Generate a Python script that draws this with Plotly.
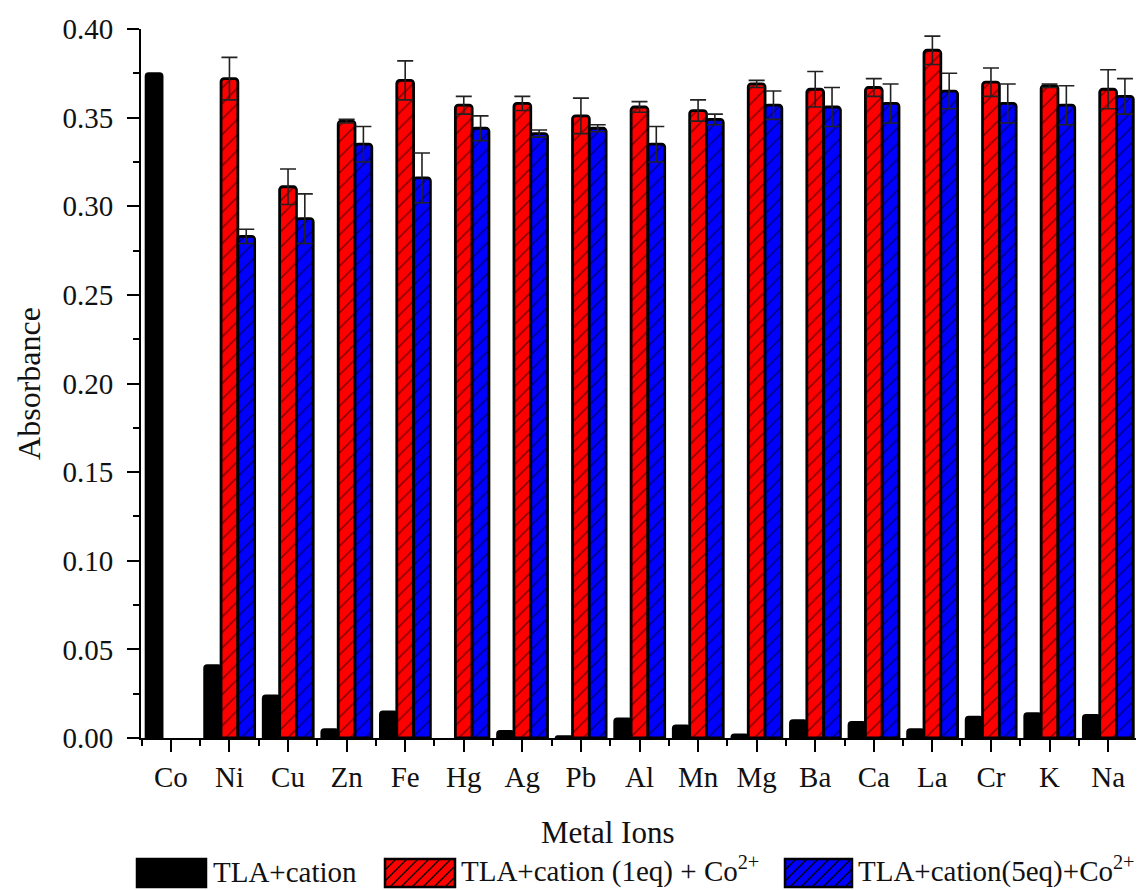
import plotly.graph_objects as go

ions = ["Co", "Ni", "Cu", "Zn", "Fe", "Hg", "Ag", "Pb", "Al", "Mn", "Mg", "Ba", "Ca", "La", "Cr", "K", "Na"]

tla_cation = [0.375, 0.041, 0.024, 0.005, 0.015, None, 0.004, 0.001, 0.011, 0.007, 0.002, 0.010, 0.009, 0.005, 0.012, 0.014, 0.013]

co_1eq = [None, 0.372, 0.311, 0.348, 0.371, 0.357, 0.358, 0.351, 0.356, 0.354, 0.369, 0.366, 0.367, 0.388, 0.370, 0.368, 0.366]
co_1eq_err = [0, 0.012, 0.010, 0.001, 0.011, 0.005, 0.004, 0.010, 0.003, 0.006, 0.002, 0.010, 0.005, 0.008, 0.008, 0.001, 0.011]

co_5eq = [None, 0.283, 0.293, 0.335, 0.316, 0.344, 0.341, 0.344, 0.335, 0.349, 0.357, 0.356, 0.358, 0.365, 0.358, 0.357, 0.362]
co_5eq_err = [0, 0.004, 0.014, 0.010, 0.014, 0.007, 0.002, 0.002, 0.010, 0.003, 0.008, 0.011, 0.011, 0.010, 0.011, 0.011, 0.010]

series_names = ["TLA+cation", "TLA+cation (1eq) + Co<sup>2+</sup>", "TLA+cation(5eq)+Co<sup>2+</sup>"]
series_colors = ["#000000", "#FF0000", "#0000FF"]

y_ticks = [0.00, 0.05, 0.10, 0.15, 0.20, 0.25, 0.30, 0.35, 0.40]

FONT = "Liberation Serif, Times New Roman, serif"
FS = 29
TXT = "#111111"
xpos = list(range(len(ions)))

# figure geometry (page has an 8px body margin: figure is 1136x882 placed at (8, 8))
W, H = 1136, 882
ML, MR, MT, MB = 133, 6, 21, 152
PW, PH = W - ML - MR, H - MT - MB


def px2paper(x, y):
    return (x - ML) / PW, (H - MB - y) / PH


fig = go.Figure()
fig.add_trace(go.Bar(
    x=xpos, y=tla_cation, name=series_names[0],
    marker=dict(color=series_colors[0], line=dict(color="#000000", width=2), cornerradius=3),
))
fig.add_trace(go.Bar(
    x=xpos, y=co_1eq, name=series_names[1],
    marker=dict(color=series_colors[1], line=dict(color="#000000", width=2.8), cornerradius=3,
                pattern=dict(shape="/", fgcolor="#000000", bgcolor=series_colors[1], size=11, solidity=0.14, fillmode="overlay")),
    error_y=dict(type="data", array=co_1eq_err, symmetric=True, color="#222222", thickness=1.6, width=8),
))
fig.add_trace(go.Bar(
    x=xpos, y=co_5eq, name=series_names[2],
    marker=dict(color=series_colors[2], line=dict(color="#000000", width=2.8), cornerradius=3,
                pattern=dict(shape="/", fgcolor="#000000", bgcolor=series_colors[2], size=11, solidity=0.14, fillmode="overlay")),
    error_y=dict(type="data", array=co_5eq_err, symmetric=True, color="#222222", thickness=1.6, width=8),
))

# ---- legend drawn as key boxes + real text (figure pixel coords) ----
legend_boxes = [(129, 198), (377, 447), (777, 844)]   # x0, x1 of each key box
legend_text_x = [204, 452, 849]
legend_text_size = [29, 29, 29]
box_y0, box_y1 = 851, 879
text_bottom = 881

shapes = []
annotations = []
for i, ((bx0, bx1), tx, ts) in enumerate(zip(legend_boxes, legend_text_x, legend_text_size)):
    px0, py0 = px2paper(bx0, box_y1)
    px1, py1 = px2paper(bx1, box_y0)
    shapes.append(dict(type="rect", xref="paper", yref="paper", x0=px0, x1=px1, y0=py0, y1=py1,
                       fillcolor=series_colors[i], line=dict(color="#000000", width=2.5), layer="above"))
    if i > 0:
        # diagonal hatch "/" inside the key box
        h = box_y1 - box_y0
        parts = []
        c = bx0 - h
        while c < bx1:
            xa, ya = c, box_y1
            xb, yb = c + h, box_y0
            if xa < bx0:
                ya = box_y1 - (bx0 - xa)
                xa = bx0
            if xb > bx1:
                yb = box_y0 + (xb - bx1)
                xb = bx1
            if xb > xa:
                pa = px2paper(xa, ya)
                pb = px2paper(xb, yb)
                parts.append(f"M{pa[0]:.5f},{pa[1]:.5f} L{pb[0]:.5f},{pb[1]:.5f}")
            c += 11
        shapes.append(dict(type="path", xref="paper", yref="paper", path=" ".join(parts),
                           line=dict(color="#000000", width=1.3), layer="above"))
    tpx, tpy = px2paper(tx, text_bottom)
    annotations.append(dict(text=series_names[i], xref="paper", yref="paper", x=tpx, y=tpy,
                            xanchor="left", yanchor="bottom", showarrow=False, borderpad=0,
                            font=dict(family=FONT, size=ts, color=TXT)))

annotations.append(dict(text="Metal Ions", xref="paper", yref="paper", x=0.468, y=-0.1326,
                        xanchor="center", yanchor="middle", showarrow=False,
                        font=dict(family=FONT, size=31, color=TXT)))

fig.update_layout(
    width=W, height=H,
    margin=dict(l=ML, r=MR, t=MT, b=MB, autoexpand=False),
    paper_bgcolor="white", plot_bgcolor="white",
    barmode="group", bargap=0.14, bargroupgap=0,
    font=dict(family=FONT, size=FS, color=TXT),
    showlegend=False,
    shapes=shapes,
    annotations=annotations,
)

fig.update_xaxes(
    range=[-0.51, 16.51], tickmode="array", tickvals=xpos, ticktext=ions, automargin=False,
    showline=True, linecolor="#000000", linewidth=2, showgrid=False, zeroline=False,
    ticks="outside", ticklen=12, tickwidth=2, tickcolor="#000000",
    tickfont=dict(family=FONT, size=FS, color=TXT),
    minor=dict(ticks="outside", tick0=0.5, dtick=1, ticklen=6, tickwidth=2, tickcolor="#000000", showgrid=False),
)
fig.update_yaxes(
    range=[0, 0.40], tickmode="array", tickvals=y_ticks, tickformat=".2f", automargin=False,
    showline=True, linecolor="#000000", linewidth=2, showgrid=False, zeroline=False,
    ticks="outside", ticklen=12, tickwidth=2, tickcolor="#000000", ticklabelstandoff=8,
    tickfont=dict(family=FONT, size=FS, color=TXT),
    minor=dict(ticks="outside", tick0=0, dtick=0.025, ticklen=6, tickwidth=2, tickcolor="#000000", showgrid=False),
    title=dict(text="Absorbance", font=dict(family=FONT, size=32, color=TXT), standoff=12),
)

fig.write_html("out.html")
